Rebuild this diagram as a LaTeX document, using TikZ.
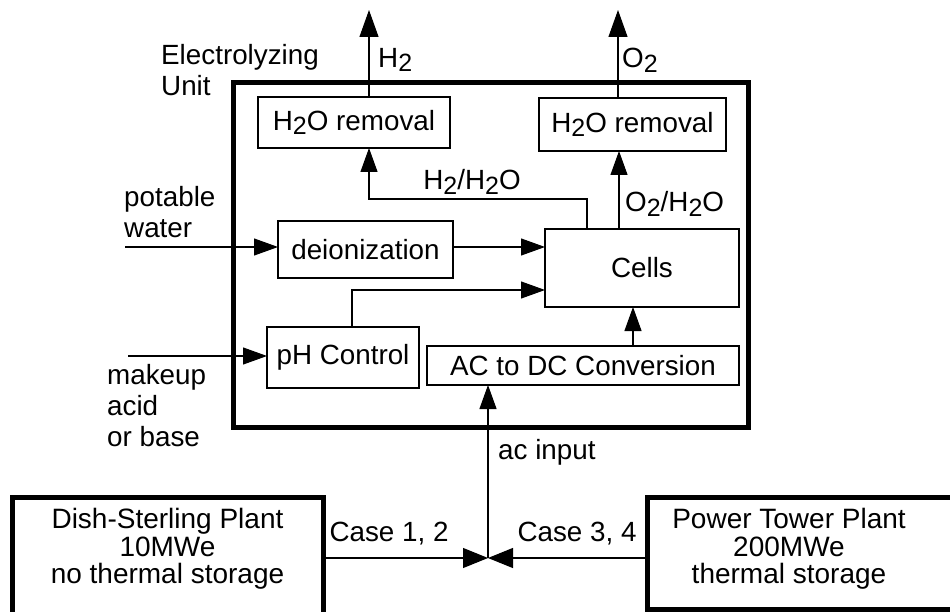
\documentclass[tikz,border=0pt]{standalone}
\usepackage{fontspec}
\setmainfont{Liberation Sans}
\usetikzlibrary{arrows.meta}
\newcommand\sbs[1]{\raisebox{-0.32ex}{\fontsize{25}{25}\selectfont #1}}
\begin{document}
\begin{tikzpicture}[x=1pt,y=-1pt,
  font=\fontsize{27.8}{31}\selectfont,
  box/.style={draw, line width=2.6pt, inner sep=0pt, outer sep=0pt},
  thickbox/.style={draw, line width=5pt, inner sep=0pt, outer sep=0pt},
  arr/.style={line width=1.1pt, -{Triangle[length=24pt,width=17pt]}},
  bigarr/.style={line width=1.1pt, -{Triangle[length=27pt,width=19pt]}},
  jarr/.style={line width=1.1pt, -{Triangle[length=25pt,width=20pt]}},
  lbl/.style={inner sep=0pt, align=left},
  plbl/.style={inner sep=0pt, align=center, font=\fontsize{28}{27.5}\selectfont}]
\useasboundingbox (0,0) rectangle (950,612);
% outer unit
\node[thickbox, minimum width=515pt, minimum height=344pt] (unit) at (490.5,255) {};
\node[lbl, anchor=north west] (unitlbl) at (161,44) {Electrolyzing\\Unit};
% inner boxes
\node[box, minimum width=192pt, minimum height=51pt] (rem1) at (354,122.5) {H\sbs{2}O removal};
\node[box, minimum width=187pt, minimum height=53pt] (rem2) at (632.5,124.5) {H\sbs{2}O removal};
\node[box, minimum width=175pt, minimum height=57pt] (deion) at (365.5,249.5) {deionization};
\node[box, minimum width=194pt, minimum height=78pt] (cells) at (642,268) {Cells};
\node[box, minimum width=152pt, minimum height=61pt] (ph) at (343,357.5) {pH Control};
\node[box, minimum width=312pt, minimum height=39pt] (acdc) at (583,365.5) {AC to DC Conversion};
% outputs
\coordinate (h2top) at (369,10);
\coordinate (o2top) at (618,10);
\draw[bigarr] (rem1.north -| h2top) -- (h2top);
\draw[bigarr] (rem2.north -| o2top) -- (o2top);
\node[lbl, anchor=west] (h2lbl) at (378,60) {H\sbs{2}};
\node[lbl, anchor=west] (o2lbl) at (622,60) {O\sbs{2}};
% H2/H2O
\coordinate (hbend) at (587,199);
\draw[arr] (cells.north -| hbend) -- (hbend) -- (hbend -| h2top) -- (rem1.south -| h2top);
\node[lbl] (h2h2o) at (472,182) {H\sbs{2}/H\sbs{2}O};
% O2/H2O
\coordinate (oline) at (619,0);
\draw[arr] (cells.north -| oline) -- (rem2.south -| oline);
\node[lbl, anchor=west] (o2h2o) at (625,204) {O\sbs{2}/H\sbs{2}O};
% potable water
\coordinate (pwin) at (125,247);
\draw[arr] (pwin) -- (pwin -| deion.west);
\node[lbl, anchor=south west] (pwlbl) at (124,238) {potable\\water};
\draw[arr] (deion.east |- pwin) -- (cells.west |- pwin);
% pH control
\coordinate (phin) at (128,356);
\draw[arr] (phin) -- (phin -| ph.west);
\node[lbl, anchor=north west] (mklbl) at (107,364) {makeup\\acid\\or base};
\coordinate (phup) at (352,290);
\draw[arr] (ph.north -| phup) -- (phup) -- (cells.west |- phup);
% AC/DC to cells
\coordinate (acx) at (633,0);
\draw[arr] (acdc.north -| acx) -- (cells.south -| acx);
% plants
\node[thickbox, minimum width=311pt, minimum height=130pt, anchor=north west] (dish) at (12,497) {};
\node[plbl] (dishtxt) at (167.5,549) {Dish-Sterling Plant\\10MWe\\no thermal storage};
\node[thickbox, minimum width=330pt, minimum height=112pt, anchor=north west] (tower) at (647,497) {};
\node[plbl] (towertxt) at (789,549) {Power Tower Plant\\200MWe\\thermal storage};
\coordinate (junc) at (488,558);
\draw[jarr] (dish.east |- junc) -- (junc);
\draw[jarr] (tower.west |- junc) -- (junc);
\draw[arr] (junc) -- (acdc.south -| junc);
\node[lbl] (c12) at (389,534) {Case 1, 2};
\node[lbl] (c34) at (577,534) {Case 3, 4};
\node[lbl, anchor=west] (acin) at (498,452) {ac input};
\end{tikzpicture}
\end{document}
